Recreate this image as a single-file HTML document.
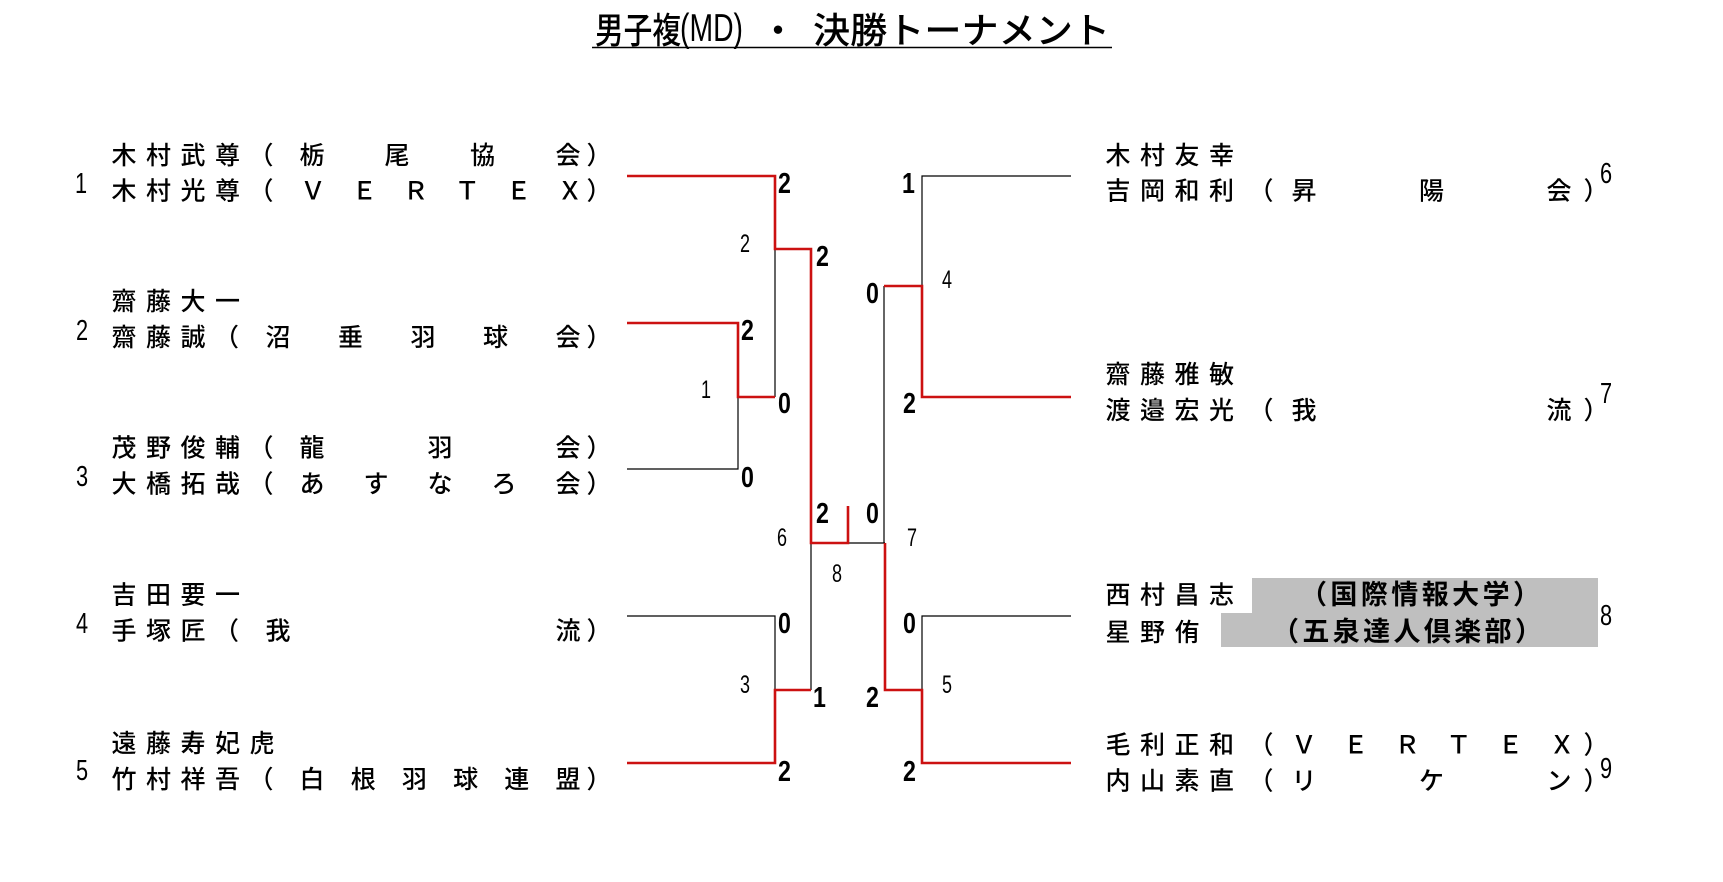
<!DOCTYPE html>
<html lang="ja">
<head>
<meta charset="utf-8">
<style>
  html,body{margin:0;padding:0;background:#fff;}
  body{width:1723px;height:882px;overflow:hidden;}
  svg{display:block;}
  .t{font-family:"Liberation Sans","Noto Sans CJK JP",sans-serif;font-size:25px;font-weight:500;fill:#000;}
  .d{font-family:"Liberation Sans",sans-serif;fill:#000;}
</style>
</head>
<body>
<svg width="1723" height="882" viewBox="0 0 1723 882" xmlns="http://www.w3.org/2000/svg">
  <rect width="1723" height="882" fill="#fff"/>

  <!-- Title -->
  <g font-family="'Liberation Sans','Noto Sans CJK JP',sans-serif" font-size="36" font-weight="500" fill="#000">
    <text x="595" y="43" textLength="86" lengthAdjust="spacingAndGlyphs">男子複</text>
    <text x="680" y="41" font-size="39" font-weight="400" textLength="63" lengthAdjust="spacingAndGlyphs">(MD)</text>
    <text x="778" y="43" text-anchor="middle">・</text>
    <text x="813" y="43" textLength="297" lengthAdjust="spacingAndGlyphs">決勝トーナメント</text>
  </g>
  <line x1="592" y1="47.5" x2="1112" y2="47.5" stroke="#000" stroke-width="1.5"/>

  <!-- Gray highlight -->
  <rect x="1252" y="578" width="346" height="36" fill="#bfbfbf"/>
  <rect x="1221" y="613" width="377" height="34" fill="#bfbfbf"/>

  <!-- Black bracket lines -->
  <g stroke="#000" stroke-width="1.2" fill="none">
    <path d="M627 469 H738 V397"/>
    <path d="M775 249 V397"/>
    <path d="M627 616 H775 V690"/>
    <path d="M811 543 V690"/>
    <path d="M848 543 H885"/>
    <path d="M884 286 V543"/>
    <path d="M1071 176 H922 V286"/>
    <path d="M1071 616 H922 V690"/>
  </g>
  <!-- Red winner lines -->
  <g stroke="#cc1111" stroke-width="2.6" fill="none" stroke-linejoin="miter">
    <path d="M627 176 H775 V249 H811 V543 H848 V506"/>
    <path d="M627 323 H738 V397 H775"/>
    <path d="M627 763 H775 V690 H811"/>
    <path d="M1071 397 H922 V286 H884"/>
    <path d="M1071 763 H922 V690 H885 V543"/>
  </g>

  <!-- Left team names -->
  <g class="t" text-anchor="middle">
    <text x="124 158.5 193 227.5 261 312 397 482.5 568 599" y="164">木村武尊（栃尾協会）</text>
    <text x="124 158.5 193 227.5 261 313 364.4 415.8 467.2 518.6 570 599" y="199.5">木村光尊（ＶＥＲＴＥＸ）</text>

    <text x="124 158.5 193 227.5" y="310">齋藤大一</text>
    <text x="124 158.5 193 226.5 278 350.5 423 495.5 568 599" y="346">齋藤誠（沼垂羽球会）</text>

    <text x="124 158.5 193 227.5 261 312 440 568 599" y="456.5">茂野俊輔（龍羽会）</text>
    <text x="124 158.5 193 227.5 261 312 376 440 504 568 599" y="492.5">大橋拓哉（あすなろ会）</text>

    <text x="124 158.5 193 227.5" y="603.5">吉田要一</text>
    <text x="124 158.5 193 226.5 278 568 599" y="639.5">手塚匠（我流）</text>

    <text x="124 158.5 193 227.5 262" y="752">遠藤寿妃虎</text>
    <text x="124 158.5 193 227.5 261 312 363.2 414.4 465.6 516.8 568 599" y="788">竹村祥吾（白根羽球連盟）</text>
  </g>

  <!-- Right team names -->
  <g class="t" text-anchor="middle">
    <text x="1118 1152.5 1187 1221.5" y="164">木村友幸</text>
    <text x="1118 1152.5 1187 1221.5 1261 1304 1431.5 1559 1596" y="199.5">吉岡和利（昇陽会）</text>

    <text x="1118 1152.5 1187 1221.5" y="383">齋藤雅敏</text>
    <text x="1118 1152.5 1187 1221.5 1261 1304 1559 1596" y="419">渡邉宏光（我流）</text>

    <text x="1118 1152.5 1187 1221.5" y="603.5">西村昌志</text>
    <text x="1118 1152.5 1187" y="641">星野侑</text>

    <text x="1118 1152.5 1187 1221.5 1261 1304 1355.6 1407.2 1458.8 1510.4 1562 1596" y="753.5">毛利正和（ＶＥＲＴＥＸ）</text>
    <text x="1118 1152.5 1187 1221.5 1261 1304 1431.5 1559 1596" y="789.5">内山素直（リケン）</text>
  </g>

  <!-- Highlighted bold affiliations -->
  <g font-family="'Liberation Sans','Noto Sans CJK JP',sans-serif" font-weight="700" font-size="27" fill="#000">
    <text x="1300" y="604" textLength="240" lengthAdjust="spacing">（国際情報大学）</text>
    <text x="1272" y="641" textLength="270" lengthAdjust="spacing">（五泉達人倶楽部）</text>
  </g>

  <!-- Team numbers -->
  <g class="d" font-size="29">
    <text transform="translate(75 193) scale(0.75 1)">1</text>
    <text transform="translate(76 340) scale(0.75 1)">2</text>
    <text transform="translate(76 486) scale(0.75 1)">3</text>
    <text transform="translate(76 633) scale(0.75 1)">4</text>
    <text transform="translate(76 780) scale(0.75 1)">5</text>
    <text transform="translate(1600 183) scale(0.75 1)">6</text>
    <text transform="translate(1600 403) scale(0.75 1)">7</text>
    <text transform="translate(1600 625) scale(0.75 1)">8</text>
    <text transform="translate(1600 778) scale(0.75 1)">9</text>
  </g>

  <!-- Match numbers (small regular) -->
  <g class="d" font-size="25">
    <text transform="translate(740 252) scale(0.72 1)">2</text>
    <text transform="translate(701 398) scale(0.72 1)">1</text>
    <text transform="translate(942 288) scale(0.72 1)">4</text>
    <text transform="translate(777 546) scale(0.72 1)">6</text>
    <text transform="translate(907 546) scale(0.72 1)">7</text>
    <text transform="translate(832 582) scale(0.72 1)">8</text>
    <text transform="translate(740 693) scale(0.72 1)">3</text>
    <text transform="translate(942 693) scale(0.72 1)">5</text>
  </g>

  <!-- Scores (bold) -->
  <g class="d" font-size="29" font-weight="700">
    <text transform="translate(778 193) scale(0.8 1)">2</text>
    <text transform="translate(816 266) scale(0.8 1)">2</text>
    <text transform="translate(741 340) scale(0.8 1)">2</text>
    <text transform="translate(778 413) scale(0.8 1)">0</text>
    <text transform="translate(741 487) scale(0.8 1)">0</text>
    <text transform="translate(902 193) scale(0.8 1)">1</text>
    <text transform="translate(866 303) scale(0.8 1)">0</text>
    <text transform="translate(903 413) scale(0.8 1)">2</text>
    <text transform="translate(816 523) scale(0.8 1)">2</text>
    <text transform="translate(866 523) scale(0.8 1)">0</text>
    <text transform="translate(778 633) scale(0.8 1)">0</text>
    <text transform="translate(903 633) scale(0.8 1)">0</text>
    <text transform="translate(813 707) scale(0.8 1)">1</text>
    <text transform="translate(866 707) scale(0.8 1)">2</text>
    <text transform="translate(778 781) scale(0.8 1)">2</text>
    <text transform="translate(903 781) scale(0.8 1)">2</text>
  </g>
</svg>
</body>
</html>
